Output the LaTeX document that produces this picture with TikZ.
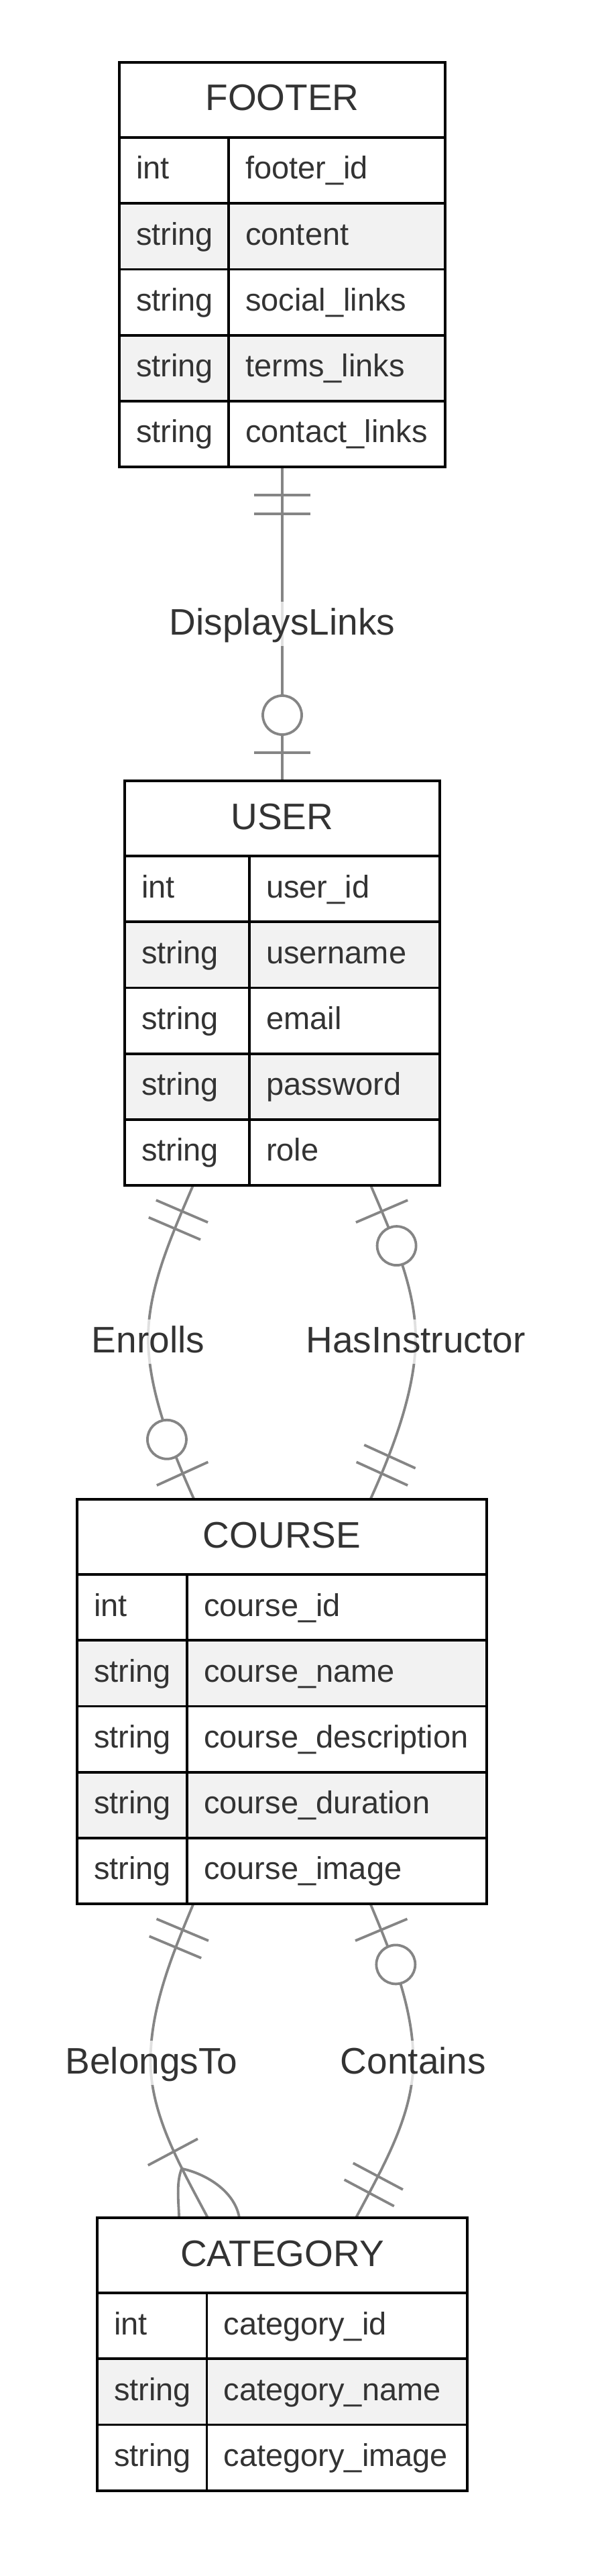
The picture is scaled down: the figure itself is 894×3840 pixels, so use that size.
\documentclass[tikz,border=0pt]{standalone}
\usepackage{fontspec}
\setmainfont{Liberation Sans}
\usetikzlibrary{calc}
\pgfdeclarelayer{bg}
\pgfsetlayers{bg,main}
\definecolor{rowgray}{HTML}{F2F2F2}
\definecolor{txt}{HTML}{333333}
\definecolor{relgray}{HTML}{858585}
\tikzset{
  boxline/.style={line width=3.8pt, draw=black},
  entbox/.style={draw=black, line width=3.8pt, rectangle, inner sep=0pt, outer sep=0pt},
  attr/.style={font=\fontsize{47}{56}\selectfont, text=txt, inner sep=0pt},
  ttl/.style={font=\fontsize{55}{66}\selectfont, text=txt, inner sep=0pt},
  rel/.style={draw=relgray, line width=3.8pt},
  rlabel/.style={font=\fontsize{55}{66}\selectfont, text=txt, fill=white, fill opacity=0.75, text opacity=1, inner xsep=3pt, inner ysep=0pt, text height=49pt, text depth=17pt, anchor=base},
}
% entity: #1 name, #2 left, #3 right, #4 divider, #5 top, #6 title, #7 number of rows, #8 rows
\newcommand\erent[8]{%
  \pgfmathsetmacro\entb{#5+112+#7*98.2}%
  \foreach \ty/\nm [count=\i] in {#8} {%
    \pgfmathsetmacro\rt{#5+112+(\i-1)*98.2}%
    \pgfmathsetmacro\rb{\rt+98.2}%
    \ifodd\i\relax\def\rowfill{white}\else\def\rowfill{rowgray}\fi
    \fill[fill=\rowfill] (#2,\rt) rectangle (#3,\rb);
    \draw[boxline] (#2,\rt) -- (#3,\rt);
    \node[attr, anchor=base west] (#1-t\i) at ({#2+25},{\rt+62}) {\ty};
    \node[attr, anchor=base west] (#1-n\i) at ({#4+25},{\rt+62}) {\nm};
  }
  \draw[boxline] (#4,{#5+112}) -- (#4,\entb);
  \node[entbox, anchor=north west, minimum width={#3-#2}, minimum height={\entb-#5}] (#1) at (#2,#5) {};
  \node[ttl, anchor=base] (#1-title) at ({(#2+#3)/2},{#5+72}) {#6};
}
\newcommand\rtick[3]{\draw[rel] ($(#1)!#3!(#2)!42pt!90:(#2)$) -- ($(#1)!#3!(#2)!42pt!-90:(#2)$);}
\newcommand\rcirc[3]{\draw[rel, fill=white] ($(#1)!#3!(#2)$) circle[radius=29pt];}
\begin{document}
\begin{tikzpicture}[x=1pt,y=-1pt]
\useasboundingbox (0,0) rectangle (894,3840);
\begin{pgfonlayer}{bg}
\fill[white] (0,0) rectangle (894,3840);
\end{pgfonlayer}

\erent{footer}{178}{664}{341}{93}{FOOTER}{5}{int/footer\_id, string/content, string/social\_links, string/terms\_links, string/contact\_links}
\erent{user}{186}{656}{372}{1164}{USER}{5}{int/user\_id, string/username, string/email, string/password, string/role}
\erent{course}{115}{726}{279}{2235}{COURSE}{5}{int/course\_id, string/course\_name, string/course\_description, string/course\_duration, string/course\_image}
\erent{category}{145}{697}{308.5}{3306}{CATEGORY}{3}{int/category\_id, string/category\_name, string/category\_image}

% connector end points
\coordinate (es) at ([xshift=-133pt]user.south);
\coordinate (ee) at ([xshift=-131pt]course.north);
\coordinate (em) at (221,1995);
\coordinate (es-t) at ($(es)+(-33,77)$);
\coordinate (ee-t) at ($(ee)+(-35,-77)$);

\coordinate (hs) at ([xshift=132pt]user.south);
\coordinate (he) at ([xshift=132pt]course.north);
\coordinate (hm) at (620,1995);
\coordinate (hs-t) at ($(hs)+(33,77)$);
\coordinate (he-t) at ($(he)+(35,-77)$);

\coordinate (bs) at ([xshift=-132pt]course.south);
\coordinate (be) at ([xshift=-111pt]category.north);
\coordinate (bm) at (224.5,3072);
\coordinate (bs-t) at ($(bs)+(-31,74)$);
\coordinate (be-t) at ($(be)+(-42,-79)$);
\coordinate (bcf) at ($(be)!83pt!(be-t)$);
\coordinate (bl) at ($(be)+(-43,0)$);
\coordinate (br) at ($(be)+(47,0)$);

\coordinate (cs) at ([xshift=132pt]course.south);
\coordinate (ce) at ([xshift=110pt]category.north);
\coordinate (cm) at (616.5,3072);
\coordinate (cs-t) at ($(cs)+(31,74)$);
\coordinate (ce-t) at ($(ce)+(42,-79)$);

\begin{pgfonlayer}{bg}
% FOOTER - USER
\draw[rel] (footer.south) -- (user.north);
\rtick{footer.south}{user.north}{42pt}
\rtick{footer.south}{user.north}{70pt}
\rtick{user.north}{footer.south}{42pt}
\rcirc{user.north}{footer.south}{98pt}
% Enrolls
\draw[rel] (es) .. controls (es-t) and ($(em)+(0,-75)$) .. (em) .. controls ($(em)+(0,75)$) and (ee-t) .. (ee);
\rtick{es}{es-t}{42pt}
\rtick{es}{es-t}{70pt}
\rtick{ee}{ee-t}{42pt}
\rcirc{ee}{ee-t}{98pt}
% HasInstructor
\draw[rel] (hs) .. controls (hs-t) and ($(hm)+(0,-75)$) .. (hm) .. controls ($(hm)+(0,75)$) and (he-t) .. (he);
\rtick{hs}{hs-t}{42pt}
\rcirc{hs}{hs-t}{98pt}
\rtick{he}{he-t}{42pt}
\rtick{he}{he-t}{70pt}
% BelongsTo
\draw[rel] (bs) .. controls (bs-t) and ($(bm)+(0,-80)$) .. (bm) .. controls ($(bm)+(0,80)$) and (be-t) .. (be);
\rtick{bs}{bs-t}{42pt}
\rtick{bs}{bs-t}{70pt}
\rtick{be}{be-t}{111pt}
\draw[rel] (bcf) .. controls +(-9,22) and +(0,-20) .. (bl);
\draw[rel] (bcf) .. controls +(34,7) and +(-7,-41) .. (br);
% Contains
\draw[rel] (cs) .. controls (cs-t) and ($(cm)+(0,-80)$) .. (cm) .. controls ($(cm)+(0,80)$) and (ce-t) .. (ce);
\rtick{cs}{cs-t}{42pt}
\rcirc{cs}{cs-t}{98pt}
\rtick{ce}{ce-t}{42pt}
\rtick{ce}{ce-t}{70pt}
\end{pgfonlayer}

% relationship labels
\node[rlabel] (l-disp) at (421,946) {DisplaysLinks};
\node[rlabel] (l-enr) at (221,2016) {Enrolls};
\node[rlabel] (l-inst) at (620,2016) {HasInstructor};
\node[rlabel] (l-bel) at (226,3091) {BelongsTo};
\node[rlabel] (l-cont) at (616.5,3091) {Contains};
\end{tikzpicture}
\end{document}
